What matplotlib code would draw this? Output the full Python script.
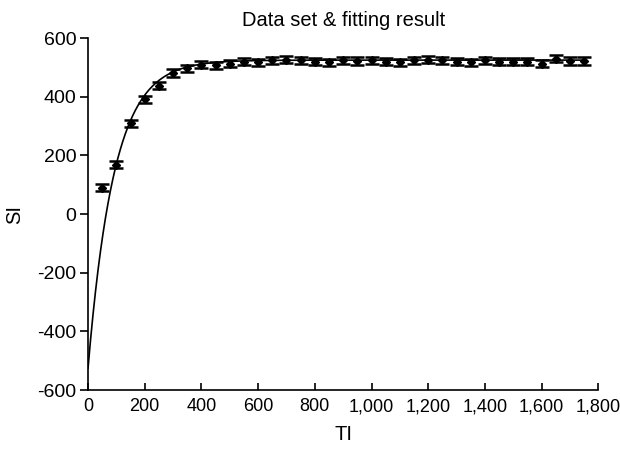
import numpy as np
import matplotlib
matplotlib.use("Agg")
import matplotlib.pyplot as plt
from matplotlib.ticker import FuncFormatter

plt.rcParams['font.family'] = ['Liberation Sans', 'DejaVu Sans']

# measured data
ti = [50, 100, 150, 200, 250, 300, 350, 400, 450, 500, 550, 600, 650, 700,
      750, 800, 850, 900, 950, 1000, 1050, 1100, 1150, 1200, 1250, 1300,
      1350, 1400, 1450, 1500, 1550, 1600, 1650, 1700, 1750]
si = [89, 168, 310, 391, 437, 481, 498, 510, 508, 512, 520, 518, 525, 527,
      525, 520, 518, 525, 522, 525, 520, 518, 525, 527, 525, 520, 518, 525,
      520, 520, 520, 512, 530, 522, 522]
err = [12, 12, 12, 12, 12, 12, 12, 12, 12, 12, 12, 12, 12, 12, 12, 12, 12,
       12, 12, 12, 12, 12, 12, 12, 12, 12, 12, 12, 12, 12, 12, 12, 12, 12, 12]

# fitting result: SI = M0 - B * exp(-TI / T1)
fit_m0 = 525.0
fit_b = 1050.0
fit_t1 = 92.0
fit_ti = np.linspace(0, 1750, 600)
fit_si = fit_m0 - fit_b * np.exp(-fit_ti / fit_t1)

xticks = [0, 200, 400, 600, 800, 1000, 1200, 1400, 1600, 1800]
yticks = [-600, -400, -200, 0, 200, 400, 600]

fig = plt.figure(figsize=(6.2, 4.57), dpi=100)
ax = fig.add_axes([0.142, 0.1466, 0.823, 0.770])

ax.plot(fit_ti, fit_si, color='black', lw=1.2, zorder=2)
ax.errorbar(ti, si, yerr=err, fmt='D', color='black', ms=4.5,
            ecolor='black', elinewidth=1.3, capsize=4.8, capthick=1.8, zorder=3)

ax.set_xlim(0, 1800)
ax.set_ylim(-600, 600)
ax.set_xticks(xticks)
ax.set_yticks(yticks)
ax.xaxis.set_major_formatter(FuncFormatter(lambda v, p: f"{int(v):,}"))
ax.yaxis.set_major_formatter(FuncFormatter(lambda v, p: f"{int(v)}"))

for s in ['top', 'right']:
    ax.spines[s].set_visible(False)
for s in ['left', 'bottom']:
    ax.spines[s].set_linewidth(1.2)

ax.tick_params(axis='x', direction='in', length=5, width=1.2, pad=6, labelsize=13)
ax.tick_params(axis='y', direction='out', length=6, width=1.2, pad=2.5, labelsize=14)

ax.set_title("Data set & fitting result", fontsize=14.5, pad=9)
ax.set_xlabel("TI", fontsize=14.5, labelpad=7)
ax.set_ylabel("SI", fontsize=14.5, labelpad=9)

fig.savefig("out.png", dpi=100)
